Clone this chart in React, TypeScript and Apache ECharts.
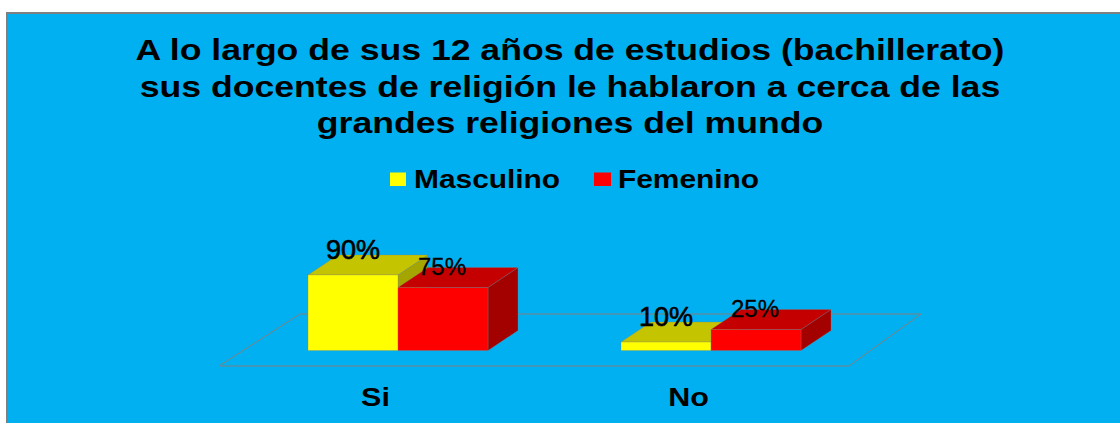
import React, { useEffect, useRef } from "react";
import * as echarts from "echarts";

const categories = ["Si", "No"];
const masculino = [90, 10];
const femenino = [75, 25];
const seriesNames = ["Masculino", "Femenino"];
const titleLines = [
  "A lo largo de sus 12 años de estudios (bachillerato)",
  "sus docentes de religión le hablaron a cerca de las",
  "grandes religiones del mundo",
];

const FONT = "'Liberation Sans', Arial, sans-serif";
const BAR_W = 90;
const DX = 30;
const DY = 20;
const FRONT_SHIFT = 22.5;
const BASE_LIFT = 15.5;
const TITLE_Y = [50, 87, 123];

function barRenderer(side: number, front: string, top: string, dark: string, fontSize: number, bolden: number, labelLift: number, labelShift: number) {
  return (_params: any, api: any) => {
    const cat = api.value(0);
    const val = api.value(1);
    const zero = api.coord([cat, 0]);
    const tip = api.coord([cat, val]);
    const x0 = zero[0] + FRONT_SHIFT + (side < 0 ? -BAR_W : 0);
    const x1 = x0 + BAR_W;
    const yb = zero[1] - BASE_LIFT;
    const yt = tip[1] - BASE_LIFT;
    const poly = (points: number[][], fill: string) => ({
      type: "polygon",
      shape: { points },
      style: { fill, stroke: "#808080", lineWidth: 0.3 },
    });
    return {
      type: "group",
      children: [
        poly([[x1, yb], [x1 + DX, yb - DY], [x1 + DX, yt - DY], [x1, yt]], dark),
        poly([[x0, yt], [x1, yt], [x1 + DX, yt - DY], [x0 + DX, yt - DY]], top),
        poly([[x0, yb], [x1, yb], [x1, yt], [x0, yt]], front),
        {
          type: "text",
          z2: 100,
          style: {
            text: val + "%",
            x: (x0 + x1) / 2 + labelShift,
            y: yt - labelLift,
            align: "center",
            verticalAlign: "middle",
            fill: "#000000",
            stroke: "#000000",
            lineWidth: bolden,
            font: `normal ${fontSize}px ${FONT}`,
          },
        },
      ],
    };
  };
}

function floorRenderer(params: any) {
  const { x, y, width, height } = params.coordSys;
  const yf = y + height;
  return {
    type: "polygon",
    shape: {
      points: [
        [x, yf],
        [x + width + 4, yf],
        [x + width + 76, yf - 52],
        [x + 81, yf - 52],
      ],
    },
    style: { fill: "none", stroke: "#808080", lineWidth: 1 },
  };
}

function categoryRenderer(_params: any, api: any) {
  const cat = api.value(0);
  const p = api.coord([cat, 0]);
  return {
    type: "text",
    x: p[0],
    y: p[1] + 31,
    scaleX: 1.22,
    style: {
      text: categories[cat],
      align: "center",
      verticalAlign: "middle",
      fill: "#000000",
      font: `bold 25px ${FONT}`,
    },
  };
}

const stretched = (text: string, x: number, y: number, size: number, scaleX: number, align: string) => ({
  type: "text",
  x,
  y,
  scaleX,
  z: 5,
  style: { text, align, verticalAlign: "middle", fill: "#000000", font: `bold ${size}px ${FONT}` },
});

export default function App() {
  const ref = useRef<HTMLDivElement>(null);
  useEffect(() => {
    const chart = echarts.init(ref.current!, undefined, { renderer: "svg" });
    chart.setOption({
      animation: false,
      backgroundColor: "#ffffff",
      graphic: [
        {
          type: "rect",
          z: -1,
          shape: { x: 7, y: 13, width: 1120, height: 420 },
          style: { fill: "#00b0f0", stroke: "#808080", lineWidth: 2 },
        },
        ...titleLines.map((t, i) => stretched(t, 570, TITLE_Y[i], 30, 1.187, "center")),
        { type: "rect", z: 5, shape: { x: 390, y: 172.5, width: 16, height: 13.5 }, style: { fill: "#ffff00" } },
        stretched(seriesNames[0], 414, 179, 26, 1.15, "left"),
        { type: "rect", z: 5, shape: { x: 594, y: 172.5, width: 17, height: 13.5 }, style: { fill: "#ff0000" } },
        stretched(seriesNames[1], 618, 179, 26, 1.15, "left"),
      ],
      grid: { left: 219, width: 626, top: 282, height: 84 },
      xAxis: {
        type: "category",
        data: categories,
        axisLine: { show: false },
        axisTick: { show: false },
        axisLabel: { show: false },
      },
      yAxis: { type: "value", min: 0, max: 100, show: false },
      series: [
        {
          type: "custom",
          name: "floor",
          coordinateSystem: "cartesian2d",
          silent: true,
          z: 1,
          data: [[0, 0]],
          renderItem: floorRenderer,
        },
        {
          type: "custom",
          name: "categories",
          coordinateSystem: "cartesian2d",
          silent: true,
          z: 1,
          data: categories.map((_c, i) => [i, 0]),
          renderItem: categoryRenderer,
        },
        {
          type: "custom",
          name: seriesNames[0],
          coordinateSystem: "cartesian2d",
          itemStyle: { color: "#ffff00" },
          z: 2,
          data: masculino.map((v, i) => [i, v]),
          renderItem: barRenderer(-1, "#ffff00", "#c4c400", "#a5a500", 27, 0.6, 25, 0),
        },
        {
          type: "custom",
          name: seriesNames[1],
          coordinateSystem: "cartesian2d",
          itemStyle: { color: "#ff0000" },
          z: 3,
          data: femenino.map((v, i) => [i, v]),
          renderItem: barRenderer(1, "#ff0000", "#c40000", "#a30000", 24, 0.3, 21.5, -1),
        },
      ],
    });
    return () => chart.dispose();
  }, []);
  return <div ref={ref} style={{ position: "fixed", left: 0, top: 0, width: 1120, height: 423 }} />;
}
